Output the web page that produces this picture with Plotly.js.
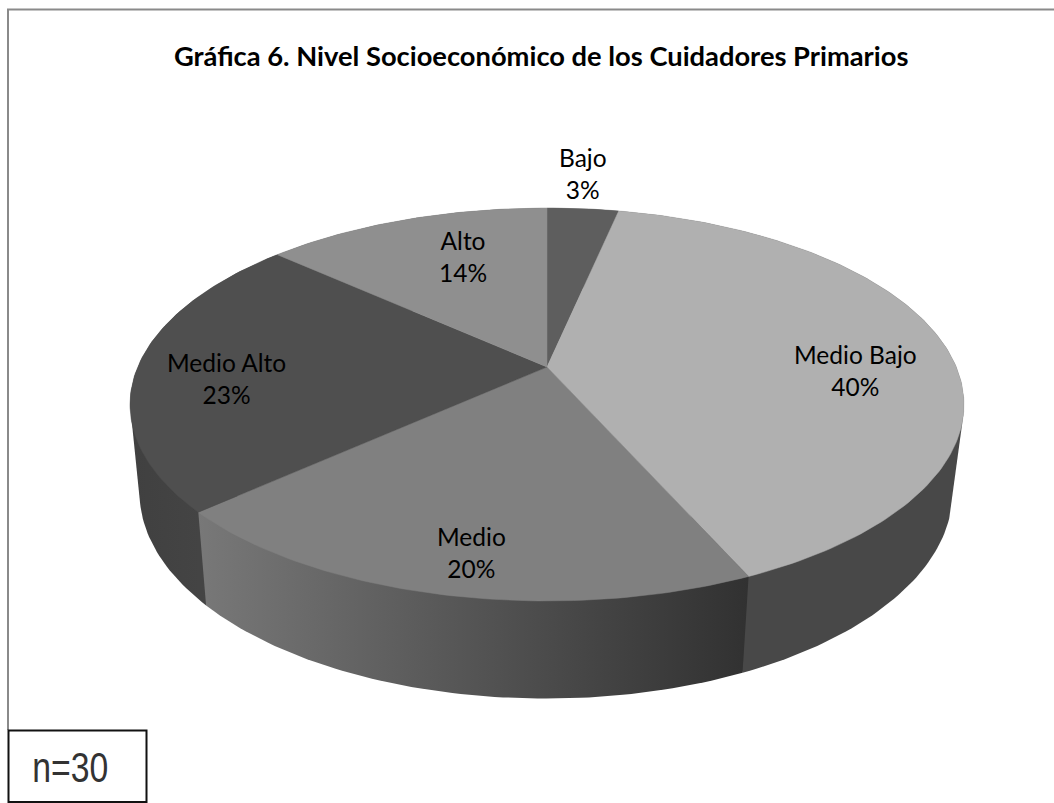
<!DOCTYPE html>
<html><head><meta charset="utf-8">
<script src="https://cdn.plot.ly/plotly-3.0.1.min.js"></script>
<style>html,body{margin:0;padding:0;background:#fff}</style></head>
<body><div id="chart" style="width:1054px;height:803px"></div>
<script>
const categories = ["Bajo","Medio Bajo","Medio","Medio Alto","Alto"];
const counts = [1,12,6,7,4];
const percentLabels = ["3%","40%","20%","23%","14%"];
const chartTitle = "Gráfica 6. Nivel Socioeconómico de los Cuidadores Primarios";
const sampleNote = "n=30";

// styling and placement
const topColors = ["#5e5e5e","#b0b0b0","#808080","#4f4f4f","#8f8f8f"];
const wallScales = [
  [[0,"#555"],[1,"#555"]],
  [[0,"#484848"],[1,"#484848"]],
  [[0,"#787878"],[0.35,"#5f5f5f"],[0.7,"#464646"],[1,"#313131"]],
  [[0,"#404040"],[0.8,"#474747"],[1,"#434343"]],
  [[0,"#555"],[1,"#555"]]
];
const wallOrder = [0,4,3,1,2]; // back to front
const labelPos = [[583,173],[855,370],[471,552],[226,378],[463,256]];
const persp = 0.1908;
const topFace = {cx:547, cy:367, A:409.3, B:189.3};
const baseFace = {cx:546, cy:453, A:399, B:198.7};

function project(face, deg){
  const t = deg*Math.PI/180, u = Math.sin(t), w = Math.cos(t), d = 1+persp*w;
  return [face.cx + face.A*u/d, face.cy - face.B*w/d];
}
function arc(face, a, b){
  const pts = [], n = Math.max(8, Math.ceil(Math.abs(b-a)));
  for(let i=0;i<=n;i++) pts.push(project(face, a+(b-a)*i/n));
  return pts;
}
function hull(points){
  const p = points.slice().sort((a,b)=>a[0]-b[0]||a[1]-b[1]);
  const cross = (o,a,b)=>(a[0]-o[0])*(b[1]-o[1])-(a[1]-o[1])*(b[0]-o[0]);
  const half = list=>{
    const h=[];
    for(const q of list){
      while(h.length>=2 && cross(h[h.length-2],h[h.length-1],q)<=0) h.pop();
      h.push(q);
    }
    h.pop();
    return h;
  };
  const out = half(p).concat(half(p.slice().reverse()));
  out.push(out[0]);
  return out;
}
const total = counts.reduce((s,v)=>s+v,0);
let run = 0;
const spans = counts.map(v=>{const a=run/total*360; run+=v; return [a, run/total*360];});

const walls = wallOrder.map(i=>{
  const s = spans[i];
  const pts = hull(arc(topFace,s[0],s[1]).concat(arc(baseFace,s[0],s[1])));
  return {type:"scatter",mode:"lines",x:pts.map(p=>p[0]),y:pts.map(p=>p[1]),
    fill:"toself",fillgradient:{type:"horizontal",colorscale:wallScales[i]},
    line:{width:0},hoverinfo:"skip",showlegend:false};
});
const tops = spans.map((s,i)=>{
  const pts = [[topFace.cx,topFace.cy]].concat(arc(topFace,s[0],s[1]));
  pts.push(pts[0]);
  return {type:"scatter",mode:"lines",x:pts.map(p=>p[0]),y:pts.map(p=>p[1]),
    fill:"toself",fillcolor:topColors[i],line:{width:0.5,color:topColors[i]},
    name:categories[i],hoverinfo:"name",showlegend:false};
});
const labelFont = {family:"Lato, 'Open Sans', sans-serif",size:24.5,color:"#000"};
const annotations = categories.map((c,i)=>({
  x:labelPos[i][0],y:labelPos[i][1],xref:"x",yref:"y",showarrow:false,
  text:c+"<br>"+percentLabels[i],font:labelFont,align:"center"
}));
annotations.push({x:541,y:55,xref:"x",yref:"y",showarrow:false,text:"<b>"+chartTitle+"</b>",
  font:{family:"Lato, 'Open Sans', sans-serif",size:27.3,color:"#000"}});
annotations.push({x:70,y:767,xref:"x",yref:"y",showarrow:false,text:sampleNote,
  font:{family:"'Liberation Sans',sans-serif",size:42,color:"#333"}});

const layout = {
  width:1054,height:803,margin:{l:0,r:0,t:0,b:0},paper_bgcolor:"#fff",plot_bgcolor:"#fff",
  xaxis:{range:[0,1054],visible:false,fixedrange:true},
  yaxis:{range:[803,0],visible:false,fixedrange:true},
  showlegend:false,annotations,
  shapes:[
    {type:"path",path:"M 8 730 L 8 9.5 L 1054 9.5",line:{color:"#8a8a8a",width:2},layer:"below"},
    {type:"rect",x0:8.5,y0:730.5,x1:146.5,y1:802,line:{color:"#111",width:2},fillcolor:"#fff",layer:"below"}
  ]
};
Plotly.newPlot("chart",walls.concat(tops),layout,{displayModeBar:false,staticPlot:true}).then(gd=>{
  gd.querySelectorAll(".annotation-text").forEach(t=>{
    if(t.textContent===sampleNote){
      t.setAttribute("textLength",76);
      t.setAttribute("lengthAdjust","spacingAndGlyphs");
    }
  });
});
</script></body></html>
